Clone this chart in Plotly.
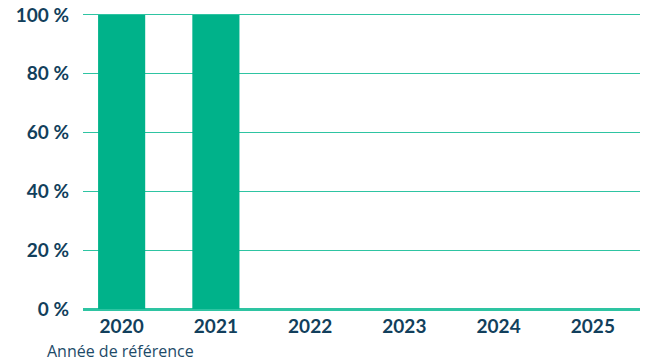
import plotly.graph_objects as go

years = ["2020", "2021", "2022", "2023", "2024", "2025"]
values = [100, 100, 0, 0, 0, 0]
y_ticks = [0, 20, 40, 60, 80, 100]
y_tick_labels = ["0 %", "20 %", "40 %", "60 %", "80 %", "100 %"]
x_title = "Année de référence"

dark = "#123f5c"
teal = "#00b28a"
grid = "#2ec4a2"

fig = go.Figure(go.Bar(x=years, y=values, marker_color=teal, width=0.5,
                       marker_line_width=0, hoverinfo="skip"))
fig.update_layout(
    width=652, height=362,
    margin=dict(l=83, r=12, t=12, b=53, pad=0),
    plot_bgcolor="white", paper_bgcolor="white",
    font=dict(family="Lato", color=dark),
    showlegend=False,
    xaxis=dict(type="category", range=[-0.41, 5.5], showgrid=False, automargin=False,
               tickfont=dict(size=19, family="Lato", weight="bold", color=dark),
               ticks="", showline=False, ticklabelstandoff=4),
    yaxis=dict(range=[0, 101], tickvals=y_ticks, ticktext=y_tick_labels, automargin=False,
               tickfont=dict(size=19, family="Lato", weight="bold", color=dark),
               gridcolor=grid, gridwidth=1, zeroline=True, zerolinecolor=grid,
               zerolinewidth=2.5, ticks="", ticklabelstandoff=13, showline=False,
               ticklabeloverflow="allow"),
    annotations=[dict(text=x_title, xref="paper", yref="paper", x=-0.068, y=-0.098,
                      xanchor="left", yanchor="top", showarrow=False,
                      font=dict(size=16, family="Open Sans", color="#1d4a68"))],
)
fig.write_html("out.html", config={"displayModeBar": False},
               post_script="document.body.style.margin='0';document.body.style.overflow='hidden';")
